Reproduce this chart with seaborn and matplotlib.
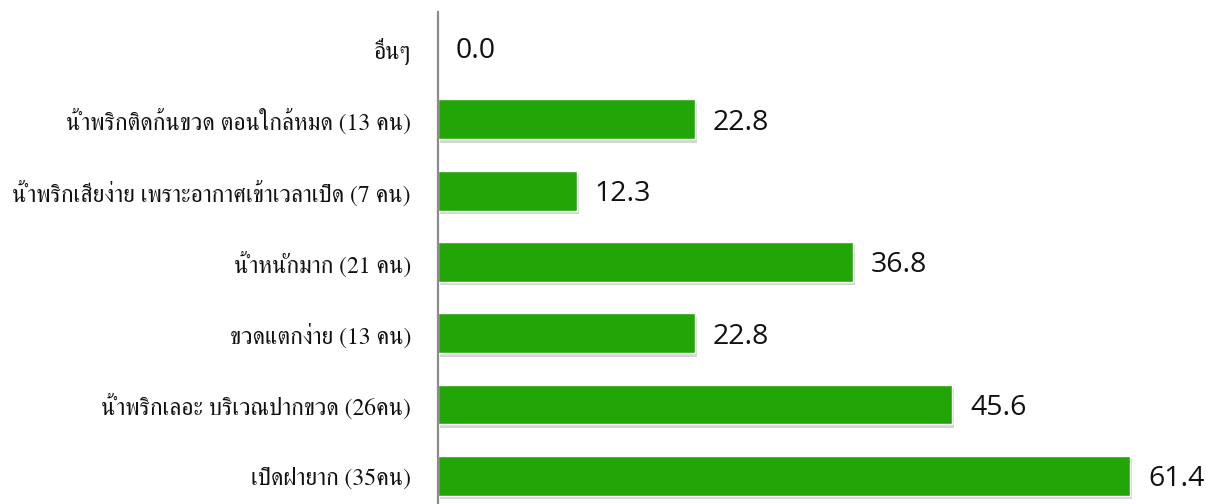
import matplotlib
matplotlib.use("Agg")
import matplotlib.pyplot as plt
import matplotlib.patheffects as pe
from matplotlib import font_manager
import seaborn as sns
import pandas as pd

categories = [
    "อื่นๆ",
    "น้ำพริกติดก้นขวด ตอนใกล้หมด (13 คน)",
    "น้ำพริกเสียง่าย เพราะอากาศเข้าเวลาเปิด (7 คน)",
    "น้ำหนักมาก (21 คน)",
    "ขวดแตกง่าย (13 คน)",
    "น้ำพริกเลอะ บริเวณปากขวด (26คน)",
    "เปิดฝายาก (35คน)",
]
percent = [0.0, 22.8, 12.3, 36.8, 22.8, 45.6, 61.4]

df = pd.DataFrame({"problem": categories, "percent": percent})

# Thai serif face for the category labels, first one that is installed
installed = {f.name for f in font_manager.fontManager.ttflist}
thai_serif = [n for n in ["Norasi", "Kinnari", "FreeSerif", "Loma"] if n in installed]
label_family = thai_serif[:1] + ["DejaVu Sans"]

sns.set_theme(style="white")
plt.rcParams["font.family"] = ["DejaVu Sans"]

fig = plt.figure(figsize=(12.06, 5.04), dpi=100)
ax = fig.add_axes([438 / 1206, 0.0, 1 - 438 / 1206, (504 - 12) / 504])

sns.barplot(data=df, x="percent", y="problem", orient="h",
            color="#22a506", width=0.56, saturation=1, ax=ax)

for bar in ax.patches:
    bar.set_path_effects([
        pe.SimplePatchShadow(offset=(1.5, -2.5), shadow_rgbFace="#777777", alpha=0.3),
        pe.Normal(),
    ])

labels = ax.bar_label(ax.containers[0], fmt="%.1f", padding=13, fontsize=20.5,
                      family=["Open Sans", "DejaVu Sans"], color="#111111")
for t in labels:
    t.xyann = (13, -2.5)

ax.set_xlim(0, (1206 - 438) / 11.27)
ax.set_ylim(6.395, -0.505)
ax.set_xlabel("")
ax.set_ylabel("")
ax.set_xticks([])
ax.tick_params(axis="y", length=0, pad=19.5)
for lab in ax.get_yticklabels():
    lab.set_fontfamily(label_family)
    lab.set_fontsize(17)
    lab.set_color("#111111")

for side in ["top", "right", "bottom"]:
    ax.spines[side].set_visible(False)
ax.spines["left"].set_color("#8c8c8c")
ax.spines["left"].set_linewidth(1.6)

fig.savefig("out.png", dpi=100)
